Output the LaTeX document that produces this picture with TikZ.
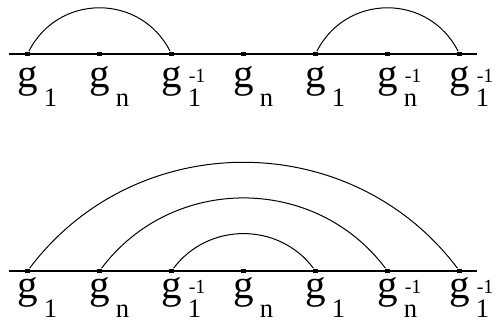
\documentclass[tikz,border=0pt]{standalone}
\usepackage{fontspec}
\setmainfont{Liberation Serif}
\usetikzlibrary{positioning}

% letter g with a subscript and an optional superscript
\newcommand{\glab}[2]{g\rlap{\hspace{3pt}\raisebox{-9.5pt}{\fontsize{13.3}{14}\selectfont #1}}\rlap{\hspace{3.5pt}\raisebox{2.5pt}{\fontsize{10}{12}\selectfont #2}}}

\begin{document}
\begin{tikzpicture}[x=0.5pt,y=-0.5pt,
    vertex/.style={draw=none, fill=black, rectangle, minimum size=2.4pt, inner sep=0pt},
    glabel/.style={anchor=base, inner sep=0pt, font=\fontsize{20.5}{24}\selectfont},
    bow/.style={line width=0.5pt},
    axis/.style={line width=0.75pt}]
    \useasboundingbox (0,0) rectangle (496,324);

    % Top word
    \coordinate (tl) at (9,54);
    \coordinate (tr) at (477,54);
    \draw[axis] (tl) -- (tr);
    \node[vertex] (a1) at (27.5,54) {};
    \node[vertex] (a2) at (99.5,54) {};
    \node[vertex] (a3) at (171.5,54) {};
    \node[vertex] (a4) at (243.5,54) {};
    \node[vertex] (a5) at (315.5,54) {};
    \node[vertex] (a6) at (387.5,54) {};
    \node[vertex] (a7) at (459.5,54) {};

    \node[glabel] (la1) at (27.5,88) {\glab{1}{}};
    \node[glabel] (la2) at (99.5,88) {\glab{n}{}};
    \node[glabel] (la3) at (171.5,88) {\glab{1}{-1}};
    \node[glabel] (la4) at (243.5,88) {\glab{n}{}};
    \node[glabel] (la5) at (315.5,88) {\glab{1}{}};
    \node[glabel] (la6) at (387.5,88) {\glab{n}{-1}};
    \node[glabel] (la7) at (459.5,88) {\glab{1}{-1}};

    % Top arcs
    \draw[bow] (a1) to[bend left=63, looseness=1.18] (a3);
    \draw[bow] (a5) to[bend left=63, looseness=1.18] (a7);

    % Bottom word
    \coordinate (bl) at (9,271);
    \coordinate (br) at (477,271);
    \draw[axis] (bl) -- (br);
    \node[vertex] (b1) at (27.5,271) {};
    \node[vertex] (b2) at (99.5,271) {};
    \node[vertex] (b3) at (171.5,271) {};
    \node[vertex] (b4) at (243.5,271) {};
    \node[vertex] (b5) at (315.5,271) {};
    \node[vertex] (b6) at (387.5,271) {};
    \node[vertex] (b7) at (459.5,271) {};

    \node[glabel] (lb1) at (27.5,299) {\glab{1}{}};
    \node[glabel] (lb2) at (99.5,299) {\glab{n}{}};
    \node[glabel] (lb3) at (171.5,299) {\glab{1}{-1}};
    \node[glabel] (lb4) at (243.5,299) {\glab{n}{}};
    \node[glabel] (lb5) at (315.5,299) {\glab{1}{}};
    \node[glabel] (lb6) at (387.5,299) {\glab{n}{-1}};
    \node[glabel] (lb7) at (459.5,299) {\glab{1}{-1}};

    % Nested arcs
    \draw[bow] (b1) to[bend left=53, looseness=1.06] (b7);
    \draw[bow] (b2) to[bend left=53, looseness=1.06] (b6);
    \draw[bow] (b3) to[bend left=53, looseness=1.06] (b5);
\end{tikzpicture}
\end{document}
